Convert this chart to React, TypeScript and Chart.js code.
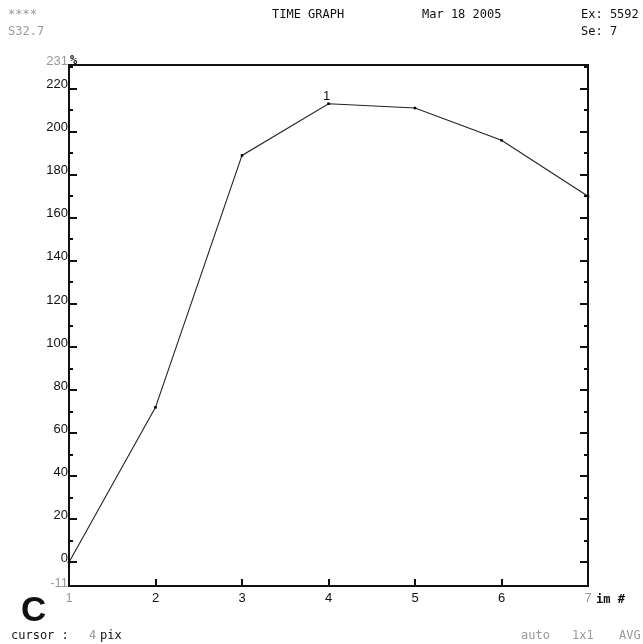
import React, { useEffect, useRef } from "react";
import { Chart, registerables } from "chart.js";

Chart.register(...registerables);

const imageNumbers = [1, 2, 3, 4, 5, 6, 7];
const percentValues = [0, 72, 189, 213, 211, 196, 170];
const yMajorTicks = [0, 20, 40, 60, 80, 100, 120, 140, 160, 180, 200, 220];
const yMinorTicks = [10, 30, 50, 70, 90, 110, 130, 150, 170, 190, 210, 230];
const yMin = -11;
const yMax = 231;
const xInnerTicks = [2, 3, 4, 5, 6];
const peakLabel = "1";
const peakIndex = 3;

const FONT = "'DejaVu Sans Mono', monospace";
const SANS = "'Liberation Sans', Arial, sans-serif";

const decorPlugin = {
  id: "decor",
  afterDraw(chart: any) {
    const ctx = chart.ctx;
    const { left, right, top, bottom } = chart.chartArea;
    const xs = chart.scales.x;
    const ys = chart.scales.y;
    ctx.save();
    // frame
    ctx.strokeStyle = "#111";
    ctx.lineWidth = 2;
    ctx.strokeRect(left, top, right - left, bottom - top);
    // y ticks
    ctx.lineWidth = 2;
    ctx.beginPath();
    yMajorTicks.forEach((v) => {
      const y = Math.round(ys.getPixelForValue(v));
      ctx.moveTo(left, y);
      ctx.lineTo(left + 8, y);
      ctx.moveTo(right, y);
      ctx.lineTo(right - 8, y);
    });
    yMinorTicks.forEach((v) => {
      const y = Math.round(ys.getPixelForValue(v));
      ctx.moveTo(left, y);
      ctx.lineTo(left + 4, y);
      ctx.moveTo(right, y);
      ctx.lineTo(right - 4, y);
    });
    xInnerTicks.forEach((v) => {
      const x = Math.round(xs.getPixelForValue(v));
      ctx.moveTo(x, bottom);
      ctx.lineTo(x, bottom - 7);
    });
    ctx.stroke();

    // y labels
    ctx.font = `13px ${SANS}`;
    ctx.textAlign = "right";
    ctx.textBaseline = "middle";
    ctx.fillStyle = "#111";
    yMajorTicks.forEach((v) => {
      const y = ys.getPixelForValue(v);
      ctx.fillText(String(v), left - 1, y - 4);
    });
    ctx.fillStyle = "#999";
    ctx.fillText(String(yMin), left - 1, ys.getPixelForValue(yMin) - 3);
    ctx.fillText(String(yMax), left - 1, ys.getPixelForValue(yMax) - 4);
    ctx.fillStyle = "#111";
    ctx.textAlign = "left";
    ctx.font = `bold 12px ${FONT}`;
    ctx.fillText("%", left + 1, ys.getPixelForValue(yMax) - 4);

    // x labels
    ctx.font = `13px ${SANS}`;
    ctx.textAlign = "center";
    ctx.textBaseline = "top";
    imageNumbers.forEach((v, i) => {
      const x = xs.getPixelForValue(v);
      const edge = i === 0 || i === imageNumbers.length - 1;
      ctx.fillStyle = edge ? "#999" : "#111";
      ctx.fillText(String(v), x, bottom + 6);
    });
    ctx.fillStyle = "#111";
    ctx.textAlign = "left";
    ctx.font = `bold 12px ${FONT}`;
    ctx.fillText("im #", right + 8, bottom + 8);

    // peak label
    ctx.font = `13px ${SANS}`;
    ctx.textAlign = "center";
    ctx.textBaseline = "bottom";
    ctx.fillText(
      peakLabel,
      xs.getPixelForValue(imageNumbers[peakIndex]) - 2,
      ys.getPixelForValue(percentValues[peakIndex]) - 1
    );

    // header texts
    ctx.textBaseline = "middle";
    ctx.textAlign = "left";
    ctx.font = `12px ${FONT}`;
    ctx.fillStyle = "#999";
    ctx.fillText("****", 8, 15);
    ctx.fillText("S32.7", 8, 32);
    ctx.fillStyle = "#111";
    ctx.fillText("TIME GRAPH", 272, 15);
    ctx.fillText("Mar 18 2005", 422, 15);
    ctx.fillText("Ex: 5592", 581, 15);
    ctx.fillText("Se: 7", 581, 32);

    // footer
    ctx.font = `bold 35px ${SANS}`;
    ctx.fillText("C", 21, 611);
    ctx.font = `12px ${FONT}`;
    ctx.fillText("cursor :", 11, 636);
    ctx.fillStyle = "#999";
    ctx.fillText("4", 89, 636);
    ctx.fillStyle = "#111";
    ctx.fillText("pix", 100, 636);
    ctx.fillStyle = "#999";
    ctx.fillText("auto", 521, 636);
    ctx.fillText("1x1", 572, 636);
    ctx.fillText("AVG", 619, 636);
    ctx.restore();
  },
};

export default function App() {
  const ref = useRef<HTMLCanvasElement | null>(null);
  useEffect(() => {
    if (!ref.current) return;
    const chart = new Chart(ref.current, {
      type: "line",
      data: {
        datasets: [
          {
            data: imageNumbers.map((x, i) => ({ x, y: percentValues[i] })),
            borderColor: "#222",
            borderWidth: 1.1,
            pointStyle: "rect",
            pointRadius: 1.8,
            pointBackgroundColor: "#000",
            pointBorderWidth: 0,
            tension: 0,
          },
        ],
      },
      options: {
        animation: false,
        responsive: false,
        devicePixelRatio: 1,
        clip: false as any,
        layout: { padding: { left: 69, right: 55, top: 65, bottom: 58 } },
        plugins: { legend: { display: false }, tooltip: { enabled: false } },
        scales: {
          x: { type: "linear", min: 1, max: 7, display: false },
          y: { type: "linear", min: yMin, max: yMax, display: false },
        },
      },
      plugins: [decorPlugin],
    });
    return () => chart.destroy();
  }, []);
  return (
    <div style={{ position: "fixed", left: 0, top: 0, width: 643, height: 644, background: "#fff" }}>
      <canvas ref={ref} width={643} height={644} />
    </div>
  );
}
